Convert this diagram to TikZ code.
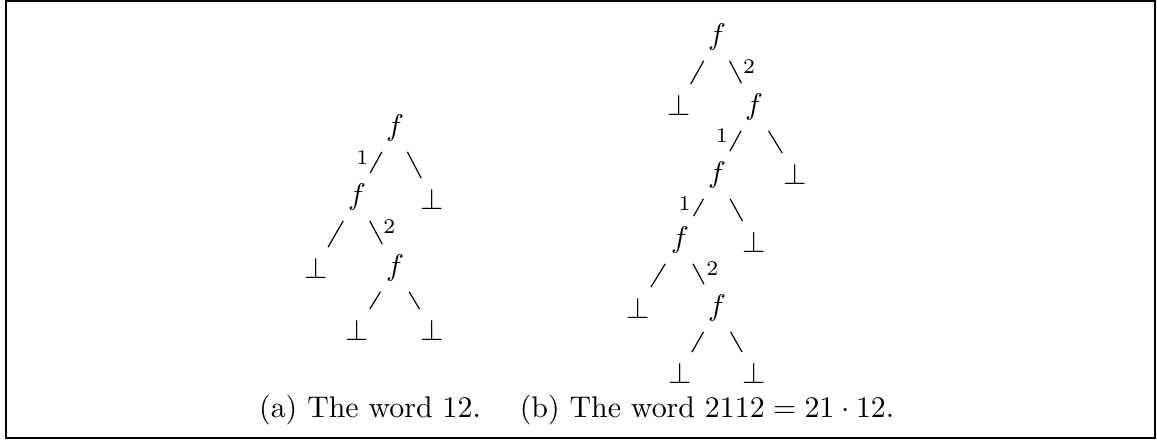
\documentclass[tikz,border=0pt]{standalone}
\usepackage{amsmath,amssymb}
\usepackage{tikz}
\tikzstyle{fun} = [inner sep=3.33pt]
\tikzstyle{leaf} = [inner sep=3.33pt]
\tikzstyle{lab} = [font=\scriptsize, pos=0.25]

\begin{document}
\begin{tikzpicture}[x=1.176cm, y=1.176cm]
  \useasboundingbox (0,0) rectangle (11.57,4.41);
  \draw[line width=0.8pt] (0.06,0.03) rectangle (11.55,4.40);

  % (a) the word 12
  \node[fun] (fa1) at (3.95, 3.13) {$f$};
  \node[fun] (fa2) at (3.57, 2.44) {$f$};
  \node[leaf] (ba1) at (4.32, 2.42) {$\bot$};
  \node[leaf] (ba2) at (3.16, 1.73) {$\bot$};
  \node[fun] (fa3) at (3.95, 1.73) {$f$};
  \node[leaf] (ba3) at (3.57, 1.11) {$\bot$};
  \node[leaf] (ba4) at (4.32, 1.11) {$\bot$};

  \path[draw] (fa1) -- node[lab,left] {1} (fa2);
  \path[draw] (fa1) -- (ba1);
  \path[draw] (fa2) -- (ba2);
  \path[draw] (fa2) -- node[lab,right] {2} (fa3);
  \path[draw] (fa3) -- (ba3);
  \path[draw] (fa3) -- (ba4);

  % (b) the word 2112
  \node[fun] (fb1) at (7.17, 4.04) {$f$};
  \node[leaf] (bb1) at (6.79, 3.36) {$\bot$};
  \node[fun] (fb2) at (7.54, 3.34) {$f$};
  \node[fun] (fb3) at (7.17, 2.66) {$f$};
  \node[leaf] (bb2) at (7.95, 2.67) {$\bot$};
  \node[fun] (fb4) at (6.80, 2.01) {$f$};
  \node[leaf] (bb3) at (7.54, 1.99) {$\bot$};
  \node[leaf] (bb4) at (6.38, 1.33) {$\bot$};
  \node[fun] (fb5) at (7.17, 1.33) {$f$};
  \node[leaf] (bb5) at (6.80, 0.68) {$\bot$};
  \node[leaf] (bb6) at (7.54, 0.68) {$\bot$};

  \path[draw] (fb1) -- (bb1);
  \path[draw] (fb1) -- node[lab,right] {2} (fb2);
  \path[draw] (fb2) -- node[lab,left] {1} (fb3);
  \path[draw] (fb2) -- (bb2);
  \path[draw] (fb3) -- node[lab,left] {1} (fb4);
  \path[draw] (fb3) -- (bb3);
  \path[draw] (fb4) -- (bb4);
  \path[draw] (fb4) -- node[lab,right] {2} (fb5);
  \path[draw] (fb5) -- (bb5);
  \path[draw] (fb5) -- (bb6);

  \node (capa) at (3.70, 0.31) {(a) The word 12.};
  \node (capb) at (7.07, 0.31) {(b) The word $2112 = 21 \cdot 12$.};
\end{tikzpicture}
\end{document}
